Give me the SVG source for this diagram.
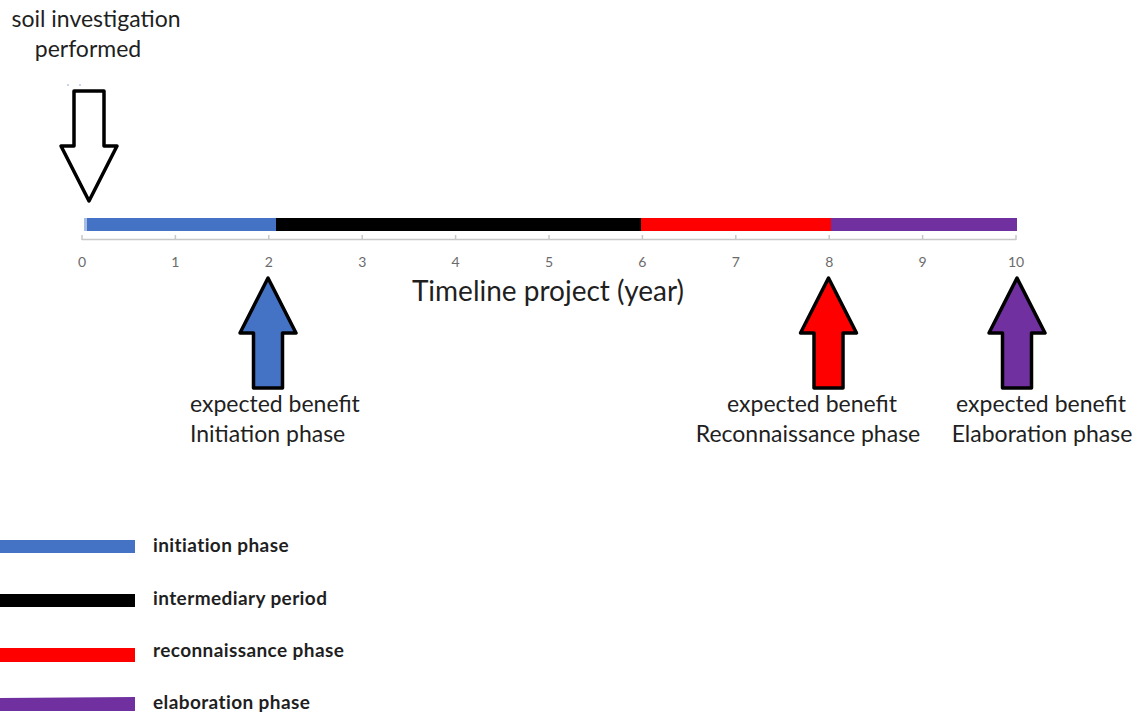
<svg xmlns="http://www.w3.org/2000/svg" width="1141" height="715" viewBox="0 0 1141 715">
  <style>
    .lbl { font-family: Lato, "Liberation Sans", sans-serif; fill: #1f1f1f; }
    .big { font-size: 23px; }
    .tick { font-family: Lato, "Liberation Sans", sans-serif; font-size: 14px; fill: #6b6b6b; text-anchor: middle; }
    .axis { stroke: #c8c8c8; stroke-width: 1.5; fill: none; }
    .arrow { stroke: #000; stroke-width: 3.5; stroke-linejoin: round; }
    .leg { font-family: Lato, "Liberation Sans", sans-serif; font-size: 19px; letter-spacing: 0.4px; font-weight: bold; fill: #1f1f1f; }
    .blue { fill: #4472c4; }
    .black { fill: #000; }
    .red { fill: #ff0000; }
    .purple { fill: #7030a0; }
  </style>
  <defs>
    <!-- upward block arrow, tip at origin -->
    <path id="up" d="M0,0 L28,55 L14.5,55 L14.5,110 L-14.5,110 L-14.5,55 L-28,55 Z"/>
  </defs>

  <!-- event marker -->
  <g id="soil-investigation">
    <text class="lbl big" text-anchor="middle" x="96" y="27">soil investigation</text>
    <text class="lbl big" text-anchor="middle" x="88" y="57">performed</text>
    <circle cx="68" cy="85" r="0.8" fill="#7fa3d6"/>
    <circle cx="80" cy="85" r="0.8" fill="#7fa3d6"/>
    <path class="arrow" fill="#fff" d="M74,91 L104,91 L104,146 L117,146 L89,201 L61,146 L74,146 Z"/>
  </g>

  <!-- timeline bar -->
  <g id="timeline">
    <rect class="blue" x="86" y="218" width="190" height="13"/>
    <rect x="84" y="218" width="3" height="13" fill="#a9bde3"/>
    <rect class="black" x="276" y="218" width="365" height="13"/>
    <rect class="red" x="641" y="218" width="190" height="13"/>
    <rect class="purple" x="831" y="218" width="186" height="13"/>
  </g>

  <!-- axis with ticks -->
  <g id="axis">
    <path class="axis" d="M82,239.5 H1016 M82,235 V240 M175.4,235 V240 M268.8,235 V240 M362.2,235 V240 M455.6,235 V240 M549,235 V240 M642.4,235 V240 M735.8,235 V240 M829.2,235 V240 M922.6,235 V240 M1016,235 V240"/>
    <text class="tick" x="82" y="267">0</text>
    <text class="tick" x="175.4" y="267">1</text>
    <text class="tick" x="268.8" y="267">2</text>
    <text class="tick" x="362.2" y="267">3</text>
    <text class="tick" x="455.6" y="267">4</text>
    <text class="tick" x="549" y="267">5</text>
    <text class="tick" x="642.4" y="267">6</text>
    <text class="tick" x="735.8" y="267">7</text>
    <text class="tick" x="829.2" y="267">8</text>
    <text class="tick" x="922.6" y="267">9</text>
    <text class="tick" x="1016" y="267">10</text>
    <text class="lbl" font-size="28" text-anchor="middle" x="548" y="301">Timeline project (year)</text>
  </g>

  <!-- benefit markers -->
  <g id="benefit-initiation">
    <use href="#up" class="arrow blue" x="268" y="278"/>
    <text class="lbl big" x="190" y="412">expected benefit</text>
    <text class="lbl big" x="190" y="442">Initiation phase</text>
  </g>
  <g id="benefit-reconnaissance">
    <use href="#up" class="arrow red" x="828.5" y="278"/>
    <text class="lbl big" text-anchor="middle" x="812" y="412">expected benefit</text>
    <text class="lbl big" text-anchor="middle" x="808" y="442">Reconnaissance phase</text>
  </g>
  <g id="benefit-elaboration">
    <use href="#up" class="arrow purple" x="1017" y="278"/>
    <text class="lbl big" text-anchor="middle" x="1041" y="412">expected benefit</text>
    <text class="lbl big" text-anchor="middle" x="1042" y="442">Elaboration phase</text>
  </g>

  <!-- legend -->
  <g id="legend">
    <rect class="blue" x="0" y="540" width="135" height="13"/>
    <text class="leg" x="153" y="552">initiation phase</text>
    <rect class="black" x="0" y="594" width="135" height="13"/>
    <text class="leg" x="153" y="605">intermediary period</text>
    <rect class="red" x="0" y="648" width="135" height="14"/>
    <text class="leg" x="153" y="657">reconnaissance phase</text>
    <path class="purple" d="M0,698 L135,697 L135,711 L0,711 Z"/>
    <text class="leg" x="153" y="709">elaboration phase</text>
  </g>
</svg>
